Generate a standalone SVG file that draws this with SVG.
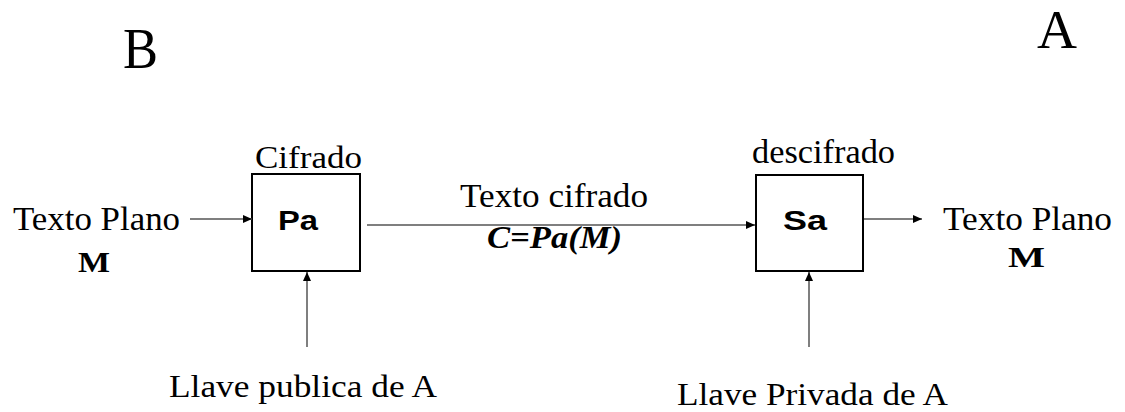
<svg xmlns="http://www.w3.org/2000/svg" width="1125" height="412" viewBox="0 0 1125 412">
<style>
.serif{font-family:"Liberation Serif","Times New Roman",serif;fill:#000}
.bserif{font-family:"Liberation Serif","DejaVu Serif","Times New Roman",serif;font-weight:bold;fill:#000}
.sans{font-family:"Liberation Sans",Arial,sans-serif;font-weight:bold;fill:#000}
.box{fill:#fff;stroke:#000;stroke-width:2}
.conn{stroke:#555;stroke-width:1.5;fill:none;marker-end:url(#ah)}
</style>
<defs>
<marker id="ah" markerUnits="userSpaceOnUse" markerWidth="10" markerHeight="8" refX="9" refY="4" orient="auto">
<path d="M0,0 L9,4 L0,8 z" fill="#000"/>
</marker>
</defs>
<rect width="1125" height="412" fill="#fff"/>
<g id="label-B"><text class="serif" x="123" y="68" font-size="56" textLength="35" lengthAdjust="spacingAndGlyphs">B</text></g>
<g id="label-A"><text class="serif" x="1037" y="48" font-size="54" textLength="40" lengthAdjust="spacingAndGlyphs">A</text></g>
<g id="input">
<text class="serif" x="13" y="230" font-size="33" textLength="167" lengthAdjust="spacingAndGlyphs">Texto Plano</text>
<text class="bserif" x="78" y="272" font-size="30" textLength="32" lengthAdjust="spacingAndGlyphs">M</text>
</g>
<g id="node-Pa">
<text class="serif" x="255" y="168" font-size="32" textLength="107" lengthAdjust="spacingAndGlyphs">Cifrado</text>
<rect class="box" x="252" y="174" width="108" height="97"/>
<text class="sans" x="278" y="230" font-size="27" textLength="40" lengthAdjust="spacingAndGlyphs">Pa</text>
</g>
<g id="node-Sa">
<text class="serif" x="752" y="163" font-size="33" textLength="143" lengthAdjust="spacingAndGlyphs">descifrado</text>
<rect class="box" x="756" y="175" width="107" height="96"/>
<text class="sans" x="783" y="230" font-size="27" textLength="44" lengthAdjust="spacingAndGlyphs">Sa</text>
</g>
<g id="output">
<text class="serif" x="943" y="230" font-size="33" textLength="169" lengthAdjust="spacingAndGlyphs">Texto Plano</text>
<text class="bserif" x="1008" y="267" font-size="30" textLength="37" lengthAdjust="spacingAndGlyphs">M</text>
</g>
<g id="key-public"><text class="serif" x="169" y="397" font-size="31" textLength="268" lengthAdjust="spacingAndGlyphs">Llave publica de A</text></g>
<g id="key-private"><text class="serif" x="677" y="405" font-size="31" textLength="271" lengthAdjust="spacingAndGlyphs">Llave Privada de A</text></g>
<g id="cipher-label">
<text class="serif" x="460" y="207" font-size="34" textLength="188" lengthAdjust="spacingAndGlyphs">Texto cifrado</text>
<text class="bserif" x="487" y="248" font-size="31" font-style="italic" textLength="135" lengthAdjust="spacingAndGlyphs">C=Pa(M)</text>
</g>
<g id="connectors">
<line class="conn" x1="190" y1="219" x2="252" y2="219"/>
<line class="conn" x1="367" y1="225" x2="755" y2="225"/>
<line class="conn" x1="864" y1="219" x2="922" y2="219"/>
<line class="conn" x1="307" y1="347" x2="307" y2="272"/>
<line class="conn" x1="809" y1="347" x2="809" y2="272"/>
</g>
</svg>
